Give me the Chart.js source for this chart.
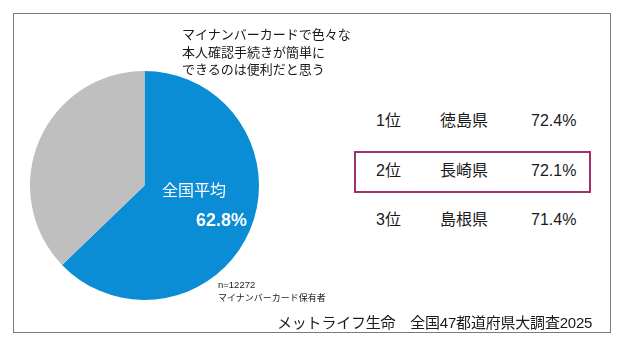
<!DOCTYPE html>
<html lang="ja">
<head>
<meta charset="utf-8">
<script src="https://cdn.jsdelivr.net/npm/chart.js@4/dist/chart.umd.min.js"></script>
<style>
  html, body { margin: 0; padding: 0; background: #fff; }
  body { width: 626px; height: 346px; position: relative; overflow: hidden;
         font-family: "Liberation Sans", "Noto Sans CJK JP", sans-serif; color: #1a1a1a; }
  .frame { position: absolute; left: 13px; top: 13px; width: 596px; height: 318px;
           border: 1px solid #7a7a7a; }
  .abs { position: absolute; white-space: nowrap; }
  #pie-wrap { position: absolute; left: 30px; top: 71px; width: 229px; height: 229px; }
  .q { left: 182px; top: 26px; font-size: 13px; line-height: 17.5px; }
  .avg-l { left: 162px; top: 177px; font-size: 16px; color: #fff; }
  .avg-v { left: 196px; top: 210px; font-size: 18px; font-weight: bold; color: #fff; }
  .rank { font-size: 16px; line-height: 20px; }
  .hl { position: absolute; left: 354px; top: 151px; width: 233px; height: 38px;
        border: 2px solid #a0306c; }
  .n1 { left: 218px; top: 279px; font-size: 9.5px; }
  .n2 { left: 218px; top: 291px; font-size: 9px; }
  .src { left: 277px; top: 311px; font-size: 15px; letter-spacing: -0.2px; }
</style>
</head>
<body>
<div class="frame"></div>
<div id="pie-wrap"><canvas id="pie"></canvas></div>
<div class="abs q">マイナンバーカードで色々な<br>本人確認手続きが簡単に<br>できるのは便利だと思う</div>
<div class="abs avg-l">全国平均</div>
<div class="abs avg-v" id="avg-v"></div>
<div class="hl"></div>
<div id="ranks"></div>
<div class="abs n1">n=12272</div>
<div class="abs n2">マイナンバーカード保有者</div>
<div class="abs src">メットライフ生命　全国47都道府県大調査2025</div>
<script>
/* ─── data ─── */
const PIE_LABELS = ['便利だと思う', 'その他'];
const PIE_VALUES = [62.8, 37.2];
const PIE_COLORS = ['#0b8dd5', '#bfbfbf'];

const RANK_LABELS = ['1位', '2位', '3位'];
const RANK_PREFS  = ['徳島県', '長崎県', '島根県'];
const RANK_VALUES = [72.4, 72.1, 71.4];

/* ─── pie ─── */
new Chart(document.getElementById('pie'), {
  type: 'pie',
  data: {
    labels: PIE_LABELS,
    datasets: [{ data: PIE_VALUES, backgroundColor: PIE_COLORS,
                 borderWidth: 0, hoverOffset: 0, offset: 0 }]
  },
  options: {
    responsive: true, maintainAspectRatio: false, animation: false,
    layout: { padding: 0 },
    plugins: { legend: { display: false }, tooltip: { enabled: false } }
  }
});
document.getElementById('avg-v').textContent = PIE_VALUES[0].toFixed(1) + '%';

/* ─── ranking ─── */
const ROW_Y = [111, 161, 210];
document.getElementById('ranks').innerHTML = RANK_LABELS.map((r, i) => `
  <div class="abs rank" style="left:376px;top:${ROW_Y[i]}px">${r}</div>
  <div class="abs rank" style="left:440px;top:${ROW_Y[i]}px">${RANK_PREFS[i]}</div>
  <div class="abs rank" style="left:531px;top:${ROW_Y[i]}px">${RANK_VALUES[i].toFixed(1)}%</div>`).join('');
</script>
</body>
</html>
